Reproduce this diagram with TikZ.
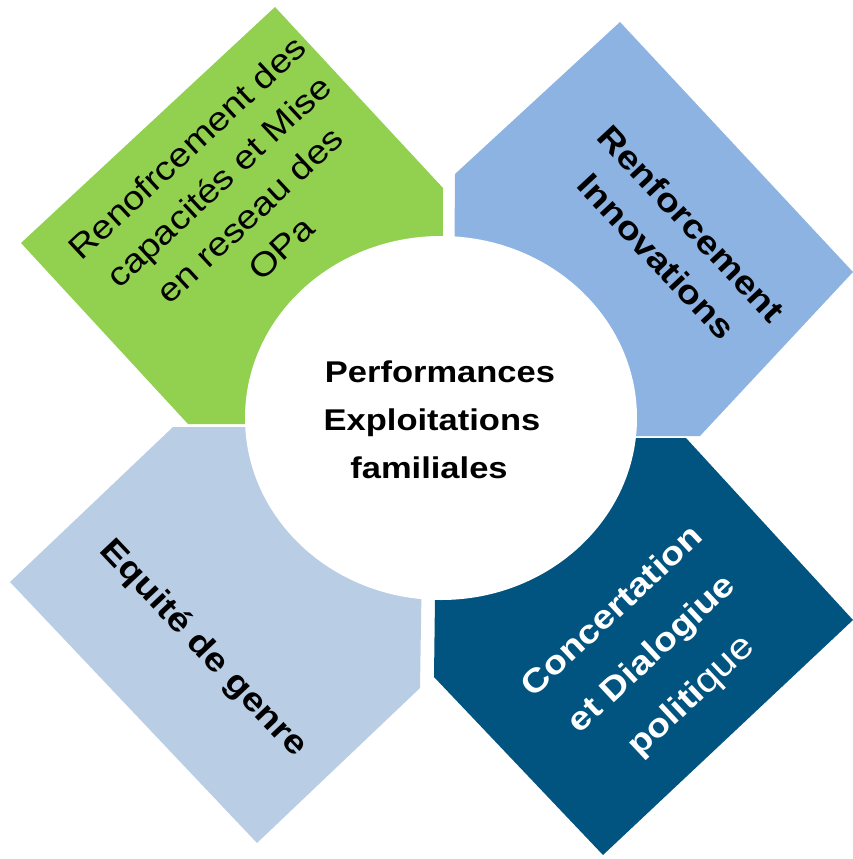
\documentclass[tikz,border=0pt]{standalone}
\usepackage{fontspec}
\setmainfont[FakeStretch=1.15]{Liberation Sans}
\definecolor{vert}{HTML}{92D050}
\definecolor{bleuclair}{HTML}{8DB3E2}
\definecolor{bleupale}{HTML}{B9CDE5}
\definecolor{bleufonce}{RGB}{2,84,128}

\begin{document}
\begin{tikzpicture}[x=1pt,y=-1pt,
    lbl/.style={align=center,inner sep=0pt},
    gros/.style={font=\fontsize{33}{#1}\selectfont},
    grosgras/.style={font=\bfseries\fontsize{33}{#1}\selectfont}]
    \useasboundingbox (0,0) rectangle (853,859);

    % les quatre blocs
    \fill[vert] (275,7) -- (443,188) -- (442,424) -- (188,424) -- (21,243) -- cycle;
    \fill[bleuclair] (620,22) -- (853,272) -- (700,436) -- (453,436) -- (455,174) -- cycle;
    \fill[bleufonce] (686,438) -- (853,620) -- (603,855) -- (434,677) -- (437,438) -- cycle;
    \fill[bleupale] (173,427) -- (424,427) -- (420,688) -- (257,843) -- (10,582) -- cycle;

    % le disque central
    \fill[white] (441,418) ellipse [x radius=196, y radius=182];

    \node[lbl,gros=46,rotate=43] (capacites) at (234,198)
        {Renofrcement des\\capacités et Mise\\en reseau des\\OPa};
    \node[lbl,grosgras=48,rotate=-47] (innovations) at (674,240)
        {Renforcement\\Innovations};
    \node[lbl,grosgras=45,rotate=-46.6] (genre) at (203,649) {Equité de genre};
    \node[lbl,grosgras=58,rotate=43,text=white] (dialogue) at (653,655)
        {Concertation\\et Dialogiue\\politi{\mdseries\fontsize{36}{58}\selectfont que}};
    % \node at (441,418) {};
    \node[lbl,font=\bfseries\fontsize{30}{48}\selectfont] (performances) at (432,420)
        {\hspace*{16pt}Performances\\Exploitations\\familiales\hspace*{6pt}};
\end{tikzpicture}
\end{document}
